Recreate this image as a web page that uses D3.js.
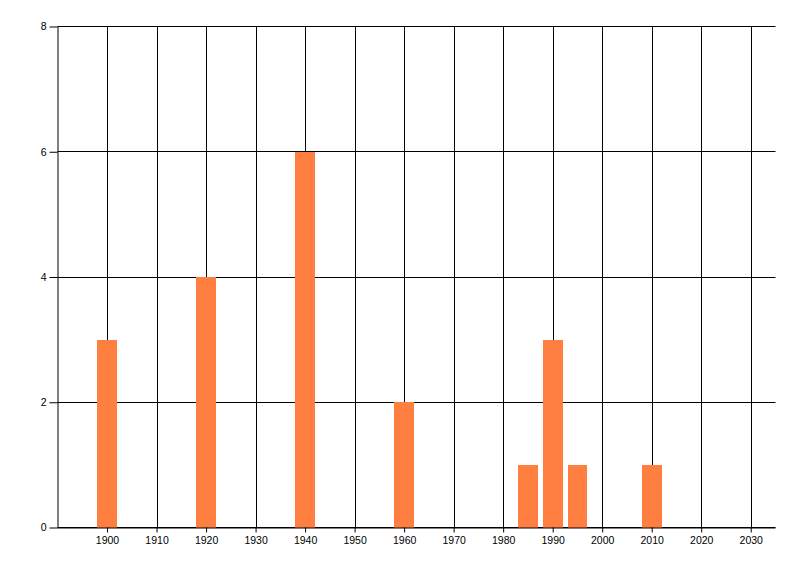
<!DOCTYPE html>
<html>
<head>
<meta charset="utf-8">
<script src="https://cdn.jsdelivr.net/npm/d3@7"></script>
<style>
  html, body { margin: 0; padding: 0; background: #fff; }
  svg { display: block; }
  text { font-family: "Liberation Sans", Arial, sans-serif; font-size: 10.5px; fill: #000; }
</style>
</head>
<body>
<svg id="chart" width="800" height="576"></svg>
<script>
const years = [1900, 1920, 1940, 1960, 1985, 1990, 1995, 2010];
const counts = [3, 4, 6, 2, 1, 3, 1, 1];
const xTickValues = [1900, 1910, 1920, 1930, 1940, 1950, 1960, 1970, 1980, 1990, 2000, 2010, 2020, 2030];
const yTickValues = [0, 2, 4, 6, 8];
const barColor = "#ff7f41";

const svg = d3.select("#chart");
const x = d3.scaleLinear().domain([1890, 2035]).range([57.5, 775.5]);
const y = d3.scaleLinear().domain([0, 8]).range([527.5, 26.5]);
const barHalfYears = 2;

// vertical grid lines
svg.append("g").selectAll("line").data(xTickValues).join("line")
  .attr("x1", d => Math.round(x(d)) + 0.5).attr("x2", d => Math.round(x(d)) + 0.5)
  .attr("y1", y(8)).attr("y2", y(0))
  .attr("stroke", "#000").attr("stroke-width", 1);

// horizontal grid lines
svg.append("g").selectAll("line").data(yTickValues).join("line")
  .attr("x1", x.range()[0]).attr("x2", x.range()[1])
  .attr("y1", d => Math.round(y(d) - 0.5) + 0.5).attr("y2", d => Math.round(y(d) - 0.5) + 0.5)
  .attr("stroke", "#000").attr("stroke-width", 1);

// bars
const data = years.map((yr, i) => ({ yr, v: counts[i] }));
svg.append("g").selectAll("rect").data(data).join("rect")
  .attr("x", d => Math.round(x(d.yr - barHalfYears)))
  .attr("width", d => Math.round(x(d.yr + barHalfYears)) - Math.round(x(d.yr - barHalfYears)))
  .attr("y", d => Math.round(y(d.v)))
  .attr("height", d => Math.round(y(0)) - Math.round(y(d.v)))
  .attr("fill", barColor);

// y axis
const yAxis = d3.axisLeft(y).tickValues(yTickValues).tickSize(8).tickPadding(3).tickFormat(d3.format("d"));
const gy = svg.append("g").attr("transform", `translate(${x.range()[0]},0)`).call(yAxis);
gy.select(".domain").attr("stroke", "#000").attr("d", `M0.5,${y(8)}V${y(0)}`);
gy.selectAll(".tick line").attr("stroke", "#000");
gy.selectAll("text").attr("font-family", null).attr("font-size", null);

// x axis
const xAxis = d3.axisBottom(x).tickValues(xTickValues).tickSize(5).tickPadding(4).tickFormat(d3.format("d"));
const gx = svg.append("g").attr("transform", `translate(0,${y(0)})`).call(xAxis);
gx.select(".domain").attr("stroke", "#000").attr("d", `M${x.range()[0]},0.5H${x.range()[1]}`);
gx.selectAll(".tick line").attr("stroke", "#000");
gx.selectAll("text").attr("font-family", null).attr("font-size", null);
</script>
</body>
</html>
